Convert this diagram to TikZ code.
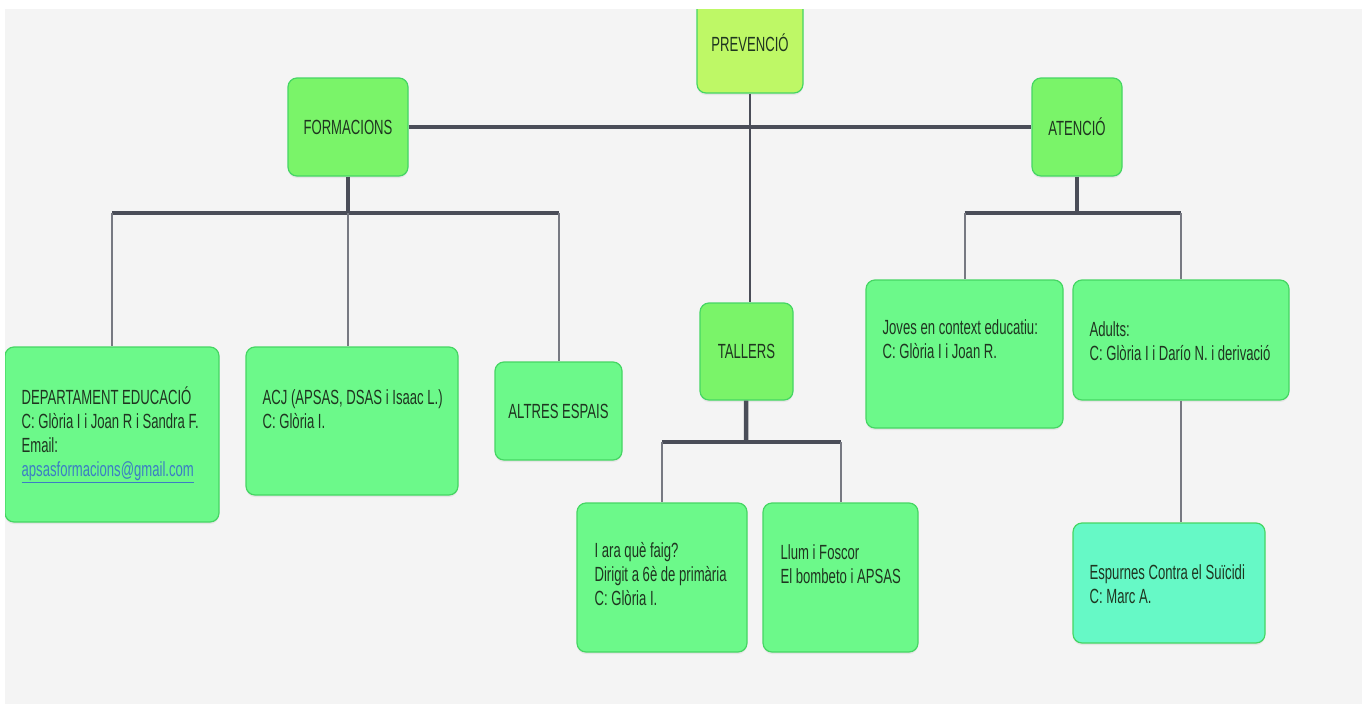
\documentclass[tikz,border=0pt]{standalone}
\usepackage{fontspec}
\setmainfont{Liberation Sans}[FakeStretch=0.64]
\usetikzlibrary{positioning,shadows}
\definecolor{bggrey}{HTML}{F4F4F4}
\definecolor{leafgreen}{HTML}{6CF98A}
\definecolor{leafline}{HTML}{45D663}
\definecolor{headgreen}{HTML}{7AF469}
\definecolor{rootlime}{HTML}{BEF866}
\definecolor{aquagreen}{HTML}{66F9C6}
\definecolor{barcol}{HTML}{4A4D58}
\definecolor{inkcol}{HTML}{1F3520}
\definecolor{mailblue}{HTML}{3C7DC4}

\begin{document}
\begin{tikzpicture}[
  x=1pt, y=-1pt,
  every node/.style={font=\fontsize{20.5}{24}\selectfont, text=inkcol},
  box/.style={draw=leafline, line width=1.2pt, fill=leafgreen, rounded corners=9pt,
    drop shadow={opacity=0.12, shadow xshift=0pt, shadow yshift=-2pt}},
  head/.style={box, fill=headgreen},
  txt/.style={anchor=base west, align=left, inner sep=0pt},
  stem/.style={draw=barcol, line width=4.5pt},
  twig/.style={draw=barcol!75, line width=2pt}]
  \useasboundingbox (0,0) rectangle (1367,704);
  \fill[bggrey] (5,9) rectangle (1362,704);
  \begin{scope}
    \clip (5,9) rectangle (1362,704);
    % top level
    \node[head, fill=rootlime, minimum width=106, minimum height=100] (prev) at (750,43) {PREVENCIÓ};
    \node[head, minimum width=120, minimum height=98] (form) at (348,127) {FORMACIONS};
    \node[head, minimum width=90, minimum height=98] (aten) at (1077,127) {ATENCIÓ};
    \node[head, minimum width=93, minimum height=97] (tall) at (746.5,351.5) {TALLERS};
    % formacions
    \node[box, minimum width=214, minimum height=175] (dep) at (112,434.5) {};
    \node[box, minimum width=212, minimum height=148] (acj) at (352,421) {};
    \node[box, minimum width=127, minimum height=98] (altres) at (558.5,411) {ALTRES ESPAIS};
    \node[txt] (dep-t) at ([shift={(17,130)}]dep.north west)
      {DEPARTAMENT EDUCACIÓ\\C: Glòria I i Joan R i Sandra F.\\Email:\\
       \textcolor{mailblue}{\underline{apsasformacions@gmail.com}}};
    \node[txt] (acj-t) at ([shift={(17,82)}]acj.north west)
      {ACJ (APSAS, DSAS i Isaac L.)\\C: Glòria I.};
    % tallers
    \node[box, minimum width=170, minimum height=149] (ara) at (662,577.5) {};
    \node[box, minimum width=155, minimum height=149] (llum) at (840.5,577.5) {};
    \node[txt] (ara-t) at ([shift={(18,103)}]ara.north west)
      {I ara què faig?\\Dirigit a 6è de primària\\C: Glòria I.};
    \node[txt] (llum-t) at ([shift={(18,81)}]llum.north west)
      {Llum i Foscor\\El bombeto i APSAS};
    % atencio
    \node[box, minimum width=197, minimum height=148] (joves) at (964.5,354) {};
    \node[box, minimum width=216, minimum height=120] (adults) at (1181,340) {};
    \node[box, fill=aquagreen, minimum width=192, minimum height=120] (esp) at (1169,583) {};
    \node[txt] (joves-t) at ([shift={(17,79)}]joves.north west)
      {Joves en context educatiu:\\C: Glòria I i Joan R.};
    \node[txt] (adults-t) at ([shift={(17,81)}]adults.north west)
      {Adults:\\C: Glòria I i Darío N. i derivació};
    \node[txt] (esp-t) at ([shift={(17,81)}]esp.north west)
      {Espurnes Contra el Suïcidi\\C: Marc A.};
    % connectors
    \coordinate (fj) at (348,213);
    \coordinate (tj) at (746,442);
    \coordinate (aj) at (1077,213);
    \draw[stem, line width=3.5pt] (form) -- (aten);
    \draw[twig, draw=barcol, line width=2.5pt] (prev.south) -- (prev.south |- tall.north);
    \draw[stem] (form) -- (fj);
    \draw[stem] (fj -| dep) -- (fj -| altres);
    \draw[twig] (fj -| dep) -- (dep);
    \draw[twig] (fj) -- (fj |- acj.north);
    \draw[twig] (fj -| altres) -- (altres);
    \draw[stem] (tall) -- (tj);
    \draw[stem] (tj -| ara) -- (tj -| llum);
    \draw[twig] (tj -| ara) -- (ara);
    \draw[twig] (tj -| llum) -- (llum);
    \draw[stem] (aten) -- (aj);
    \draw[stem] (aj -| joves) -- (aj -| adults);
    \draw[twig] (aj -| joves) -- (joves);
    \draw[twig] (aj -| adults) -- (adults);
    \draw[twig] (adults.south) -- (adults.south |- esp.north);
  \end{scope}
\end{tikzpicture}
\end{document}
